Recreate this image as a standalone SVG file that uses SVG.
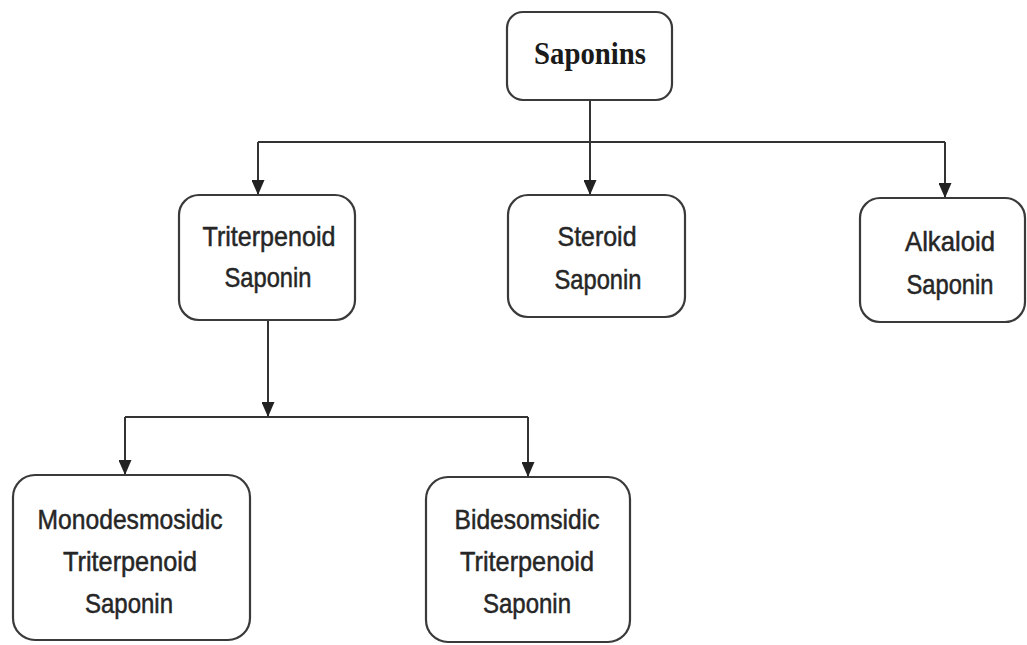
<svg xmlns="http://www.w3.org/2000/svg" width="1027" height="645" viewBox="0 0 1027 645">
<style>
.box{fill:#fff;stroke:#3a3a3a;stroke-width:2.2}
.ln{fill:none;stroke:#333;stroke-width:2}
.t{font-family:"Liberation Sans",Arial,sans-serif;font-size:28px;fill:#262626;stroke:#262626;stroke-width:0.5;text-anchor:middle}
.h{font-family:"Liberation Serif","Times New Roman",serif;font-size:32px;font-weight:bold;fill:#1a1a1a;text-anchor:middle}
</style>
<defs>
<marker id="arr" markerWidth="15" markerHeight="13" refX="15" refY="6.5" orient="auto" markerUnits="userSpaceOnUse" viewBox="0 0 15 13">
<path d="M0,0 L15,6.5 L0,13 Z" fill="#222"/>
</marker>
</defs>
<rect width="1027" height="645" fill="#fff"/>
<g id="connectors">
<line class="ln" x1="590" y1="100" x2="590" y2="195" marker-end="url(#arr)"/>
<line class="ln" x1="258" y1="142" x2="945" y2="142"/>
<line class="ln" x1="258" y1="142" x2="258" y2="195" marker-end="url(#arr)"/>
<line class="ln" x1="945" y1="142" x2="945" y2="198" marker-end="url(#arr)"/>
<line class="ln" x1="268" y1="320" x2="268" y2="417" marker-end="url(#arr)"/>
<line class="ln" x1="125" y1="417" x2="528" y2="417"/>
<line class="ln" x1="125" y1="417" x2="125" y2="475" marker-end="url(#arr)"/>
<line class="ln" x1="528" y1="417" x2="528" y2="477" marker-end="url(#arr)"/>
</g>
<g id="saponins">
<rect class="box" x="507" y="12" width="165" height="88" rx="16"/>
<text class="h" x="590" y="64" textLength="112" lengthAdjust="spacingAndGlyphs">Saponins</text>
</g>
<g id="triterpenoid">
<rect class="box" x="179" y="195" width="176" height="125" rx="20"/>
<text class="t" x="269" y="246" textLength="133" lengthAdjust="spacingAndGlyphs">Triterpenoid</text>
<text class="t" x="268" y="287" textLength="87" lengthAdjust="spacingAndGlyphs">Saponin</text>
</g>
<g id="steroid">
<rect class="box" x="508" y="195" width="177" height="122" rx="20"/>
<text class="t" x="597" y="246" textLength="79" lengthAdjust="spacingAndGlyphs">Steroid</text>
<text class="t" x="598" y="289" textLength="87" lengthAdjust="spacingAndGlyphs">Saponin</text>
</g>
<g id="alkaloid">
<rect class="box" x="860" y="198" width="165" height="124" rx="20"/>
<text class="t" x="950" y="251" textLength="90" lengthAdjust="spacingAndGlyphs">Alkaloid</text>
<text class="t" x="950" y="294" textLength="87" lengthAdjust="spacingAndGlyphs">Saponin</text>
</g>
<g id="monodesmosidic">
<rect class="box" x="13" y="475" width="237" height="165" rx="22"/>
<text class="t" x="130" y="529" textLength="185" lengthAdjust="spacingAndGlyphs">Monodesmosidic</text>
<text class="t" x="130" y="571" textLength="134" lengthAdjust="spacingAndGlyphs">Triterpenoid</text>
<text class="t" x="129" y="613" textLength="88" lengthAdjust="spacingAndGlyphs">Saponin</text>
</g>
<g id="bidesomsidic">
<rect class="box" x="426" y="477" width="204" height="165" rx="22"/>
<text class="t" x="527" y="529" textLength="145" lengthAdjust="spacingAndGlyphs">Bidesomsidic</text>
<text class="t" x="527" y="571" textLength="134" lengthAdjust="spacingAndGlyphs">Triterpenoid</text>
<text class="t" x="527" y="613" textLength="88" lengthAdjust="spacingAndGlyphs">Saponin</text>
</g>
</svg>
